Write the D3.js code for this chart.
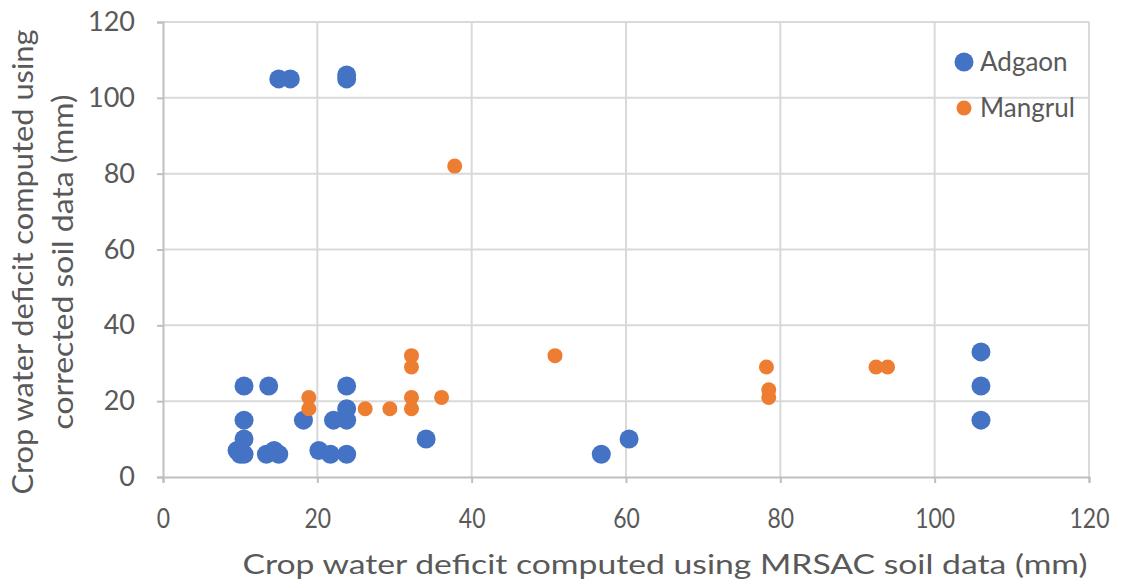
<!DOCTYPE html>
<html>
<head>
<meta charset="utf-8">
<script src="https://cdn.jsdelivr.net/npm/d3@7"></script>
<style>
  body { margin: 0; background: #fff; }
  text { font-family: Lato, "Open Sans", sans-serif; fill: #595959; }
</style>
</head>
<body>
<div id="chart"></div>
<script>
// Adgaon points (x = MRSAC, y = corrected)
var adgaonX = [15.0, 16.5, 23.8, 23.8, 10.5, 13.7, 23.8, 23.8, 10.5, 18.2, 22.1, 23.8, 10.5, 9.6, 10.0, 10.5, 13.4, 14.4, 15.0, 20.2, 21.7, 23.8, 34.1, 56.8, 60.4, 106, 106, 106];
var adgaonY = [105, 105, 105, 106, 24, 24, 24, 18, 15, 15, 15, 15, 10, 7, 6, 6, 6, 7, 6, 7, 6, 6, 10, 6, 10, 33, 24, 15];

// Mangrul points
var mangrulX = [37.8, 32.2, 32.2, 18.9, 18.9, 26.2, 29.4, 32.2, 32.2, 36.1, 50.8, 78.2, 78.5, 78.5, 92.4, 93.9];
var mangrulY = [82, 32, 29, 21, 18, 18, 18, 21, 18, 21, 32, 29, 23, 21, 29, 29];

var xTicks = [0, 20, 40, 60, 80, 100, 120];
var yTicks = [0, 20, 40, 60, 80, 100, 120];
var seriesNames = ["Adgaon", "Mangrul"];
var seriesColors = ["#4472C4", "#ED7D31"];

var W = 1124, H = 582;
const margin = {top: 22, right: 35, bottom: 105, left: 163},
    width = W - margin.left - margin.right,
    height = H - margin.top - margin.bottom;

var svg = d3.select("#chart")
    .append("svg")
    .attr("width", W)
    .attr("height", H);

var g = svg.append("g")
    .attr("transform", "translate(" + margin.left + "," + margin.top + ")");

var x = d3.scaleLinear().domain([0, 120]).range([0, width]);
var y = d3.scaleLinear().domain([0, 120]).range([height, 0]);

// gridlines
g.append("g")
    .selectAll("line")
    .data(yTicks.slice(1))
    .enter().append("line")
    .attr("x1", 0).attr("x2", width)
    .attr("y1", d => y(d)).attr("y2", d => y(d))
    .attr("stroke", "#d9d9d9").attr("stroke-width", 2);

g.append("g")
    .selectAll("line")
    .data(xTicks.slice(1))
    .enter().append("line")
    .attr("y1", 0).attr("y2", height)
    .attr("x1", d => x(d)).attr("x2", d => x(d))
    .attr("stroke", "#d9d9d9").attr("stroke-width", 2);

// x axis
var xAxis = g.append("g")
    .attr("transform", "translate(0," + height + ")")
    .call(d3.axisBottom(x).tickValues(xTicks).tickSize(6).tickPadding(26));
xAxis.select(".domain").attr("stroke", "#bfbfbf").attr("stroke-width", 2);
xAxis.selectAll(".tick line").attr("stroke", "#bfbfbf").attr("stroke-width", 2);
xAxis.selectAll("text")
    .attr("font-size", 27)
    .attr("transform", "scale(0.85,1)")
    .style("fill", "#595959")
    .style("font-family", "Lato, sans-serif");

// y axis
var yAxis = g.append("g")
    .call(d3.axisLeft(y).tickValues(yTicks).tickSize(6).tickPadding(22));
yAxis.select(".domain").attr("stroke", "#bfbfbf").attr("stroke-width", 2);
yAxis.selectAll(".tick line").attr("stroke", "#bfbfbf").attr("stroke-width", 2);
yAxis.selectAll("text")
    .attr("font-size", 27)
    .style("fill", "#595959")
    .style("font-family", "Lato, sans-serif");

// points - Adgaon first, Mangrul on top
var adgaon = adgaonX.map((v, i) => ({x: v, y: adgaonY[i]}));
var mangrul = mangrulX.map((v, i) => ({x: v, y: mangrulY[i]}));

g.selectAll(".adg")
    .data(adgaon)
    .enter().append("circle")
    .attr("cx", d => x(d.x))
    .attr("cy", d => y(d.y))
    .attr("r", 9.5)
    .attr("fill", seriesColors[0]);

g.selectAll(".man")
    .data(mangrul)
    .enter().append("circle")
    .attr("cx", d => x(d.x))
    .attr("cy", d => y(d.y))
    .attr("r", 7.5)
    .attr("fill", seriesColors[1]);

// legend
var legend = svg.append("g").attr("transform", "translate(964,62)");
[9.5, 7.5].forEach(function(r, i) {
    legend.append("circle")
        .attr("cx", 0).attr("cy", i * 46)
        .attr("r", r)
        .attr("fill", seriesColors[i]);
    legend.append("text")
        .attr("x", 16).attr("y", i * 46 + 9)
        .attr("font-size", 26)
        .text(seriesNames[i]);
});

// axis titles
svg.append("text")
    .attr("x", 665)
    .attr("y", 574)
    .attr("text-anchor", "middle")
    .attr("font-size", 27)
    .attr("textLength", 845)
    .attr("lengthAdjust", "spacingAndGlyphs")
    .text("Crop water deficit computed using MRSAC soil data (mm)");

var yt = svg.append("text")
    .attr("transform", "translate(0,262) rotate(-90)")
    .attr("text-anchor", "middle")
    .attr("font-size", 29);
yt.append("tspan").attr("x", 0).attr("y", 33)
    .attr("textLength", 465).attr("lengthAdjust", "spacingAndGlyphs")
    .text("Crop water deficit computed using");
yt.append("tspan").attr("x", 0).attr("y", 73)
    .attr("textLength", 335).attr("lengthAdjust", "spacingAndGlyphs")
    .text("corrected soil data (mm)");
</script>
</body>
</html>
